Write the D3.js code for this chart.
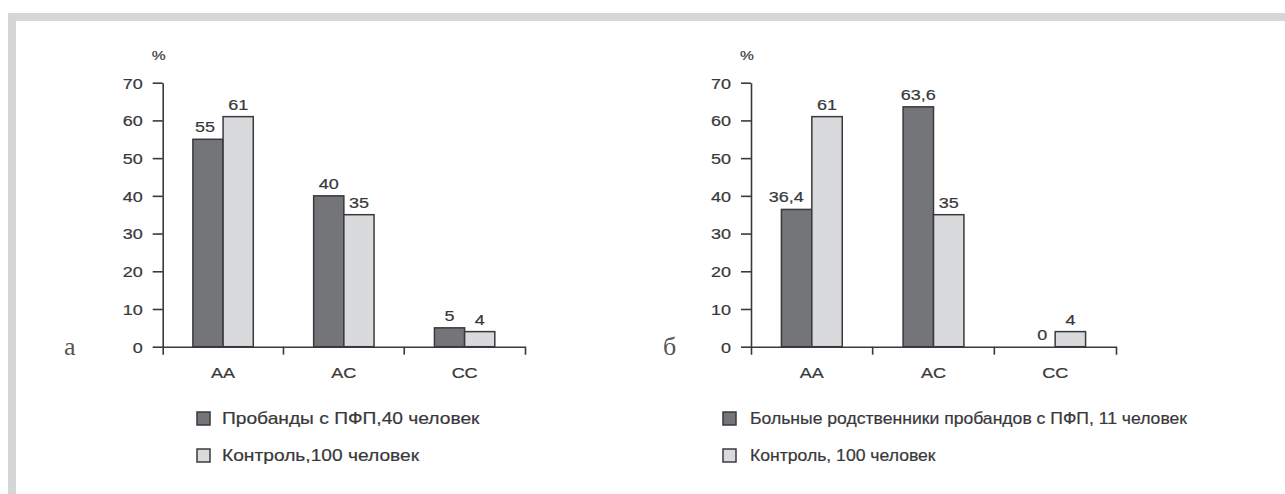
<!DOCTYPE html>
<html>
  <head>
    <meta charset="utf-8" />
    <script src="https://d3js.org/d3.v7.min.js"></script>
    <style>
      body { margin: 0; background: #fff; }
      text { font-family: "Liberation Sans", Arial, sans-serif; fill: #38383a; stroke: #38383a; stroke-width: 0.2px; }
    </style>
  </head>
  <body>
    <div id="chart"></div>
    <script>
      // data
      const genotypes = ["AA", "AC", "CC"];
      const probandsA = [55, 40, 5];
      const controlA = [61, 35, 4];
      const relativesB = [36.4, 63.6, 0];
      const controlB = [61, 35, 4];
      const yTicks = [0, 10, 20, 30, 40, 50, 60, 70];
      const legendA = ["Пробанды с ПФП,40 человек", "Контроль,100 человек"];
      const legendB = ["Больные родственники пробандов с ПФП, 11 человек", "Контроль, 100 человек"];

      const W = 1285, H = 494;
      const SX = 1.2; // glyphs in the source are a bit wide
      const dark = "#747578", light = "#d9dadc", stroke = "#3a3a3c";

      const svg = d3.select("#chart").append("svg").attr("width", W).attr("height", H);

      // grey frame at top and left
      svg.append("rect").attr("x", 8).attr("y", 13).attr("width", W - 8).attr("height", 8).attr("fill", "#d5d6d8");
      svg.append("rect").attr("x", 8).attr("y", 13).attr("width", 8).attr("height", H - 13).attr("fill", "#d5d6d8");

      const fmt = (v) => String(v).replace(".", ",");

      function stretch(sel, x, y, sx) {
        sel.attr("transform", `translate(${x},${y}) scale(${sx || SX},1)`);
      }

      function panel(opt) {
        const x = d3.scaleBand().domain(genotypes).range([opt.x0, opt.x1]).padding(0);
        const y = d3.scaleLinear().domain([0, 70]).range([346.7, 82.7]);
        const g = svg.append("g");
        const bw = x.bandwidth() * 0.25;

        // y axis
        const ya = g.append("g")
          .attr("transform", `translate(${opt.x0},0)`)
          .call(d3.axisLeft(y).tickValues(yTicks).tickSize(10).tickSizeOuter(0));
        ya.selectAll("text")
          .attr("x", null).attr("dy", "0.36em")
          .style("font-size", "15px")
          .attr("transform", `translate(${-20},0) scale(${SX},1)`);

        // x axis: labels at band centers, ticks at band edges
        const xa = g.append("g")
          .attr("transform", `translate(0,${y(0)})`)
          .call(d3.axisBottom(x).tickSize(0).tickSizeOuter(8).tickPadding(0));
        xa.selectAll(".tick text")
          .attr("y", null).attr("dy", null)
          .style("font-size", "15px")
          .attr("transform", `translate(0,31) scale(${SX},1)`);
        xa.selectAll(".edge").data(genotypes.slice(1)).enter().append("line")
          .attr("class", "edge")
          .attr("x1", (d) => x(d)).attr("x2", (d) => x(d))
          .attr("y1", 0).attr("y2", 8);
        g.selectAll(".domain, .tick line, .edge").attr("stroke", "#3a3a3c").attr("stroke-width", 1.6);

        // % label
        g.append("text").text("%")
          .style("font-size", "13px").attr("text-anchor", "middle")
          .call(stretch, opt.x0 - 4, 60);

        // panel letter
        g.append("text").text(opt.letter)
          .style("font-family", "'Liberation Serif', 'Times New Roman', serif")
          .style("font-size", "26px").style("fill", "#555").style("stroke", "none")
          .attr("x", opt.letterX).attr("y", 355);

        const rows = genotypes.map((k, i) => ({ k, a: opt.s1[i], b: opt.s2[i] }));

        // bars
        const grp = g.selectAll(".grp").data(rows).enter().append("g");
        grp.append("rect")
          .attr("x", (d) => x(d.k) + x.bandwidth() / 2 - bw)
          .attr("y", (d) => y(d.a))
          .attr("width", bw)
          .attr("height", (d) => y(0) - y(d.a))
          .attr("fill", dark).attr("stroke", stroke).attr("stroke-width", 1.5)
          .style("display", (d) => (d.a > 0 ? null : "none"));
        grp.append("rect")
          .attr("x", (d) => x(d.k) + x.bandwidth() / 2)
          .attr("y", (d) => y(d.b))
          .attr("width", bw)
          .attr("height", (d) => y(0) - y(d.b))
          .attr("fill", light).attr("stroke", stroke).attr("stroke-width", 1.5);

        // value labels; dark label slides left when the light bar next to it is taller
        grp.append("text")
          .text((d) => fmt(d.a))
          .style("font-size", "15px")
          .attr("text-anchor", (d) => (d.b > d.a ? "end" : "middle"))
          .each(function (d) {
            const cx = x(d.k) + x.bandwidth() / 2;
            const px = d.b > d.a ? cx - 8 : cx - bw / 2;
            d3.select(this).call(stretch, px, y(d.a) - 7);
          });
        grp.append("text")
          .text((d) => fmt(d.b))
          .style("font-size", "15px")
          .attr("text-anchor", "middle")
          .each(function (d) {
            const cx = x(d.k) + x.bandwidth() / 2;
            d3.select(this).call(stretch, cx + bw / 2, y(d.b) - 7);
          });

        // legend
        const lg = g.selectAll(".lg").data(opt.legend).enter().append("g")
          .attr("transform", (d, i) => `translate(${opt.legendX},${411 + i * 37})`);
        lg.append("rect")
          .attr("x", 1).attr("y", 1).attr("width", 13).attr("height", 13)
          .attr("fill", (d, i) => (i === 0 ? dark : light))
          .attr("stroke", stroke).attr("stroke-width", 1.5);
        lg.append("text").text((d) => d)
          .style("font-size", "16px")
          .call(stretch, opt.legendTextX, 13, opt.legendSX);
      }

      panel({ x0: 162.7, x1: 525, s1: probandsA, s2: controlA, legend: legendA, legendX: 196, legendTextX: 26, legendSX: 1.2, letter: "а", letterX: 64 });
      panel({ x0: 751, x1: 1116, s1: relativesB, s2: controlB, legend: legendB, legendX: 722, legendTextX: 28, legendSX: 1.1, letter: "б", letterX: 663 });
    </script>
  </body>
</html>
